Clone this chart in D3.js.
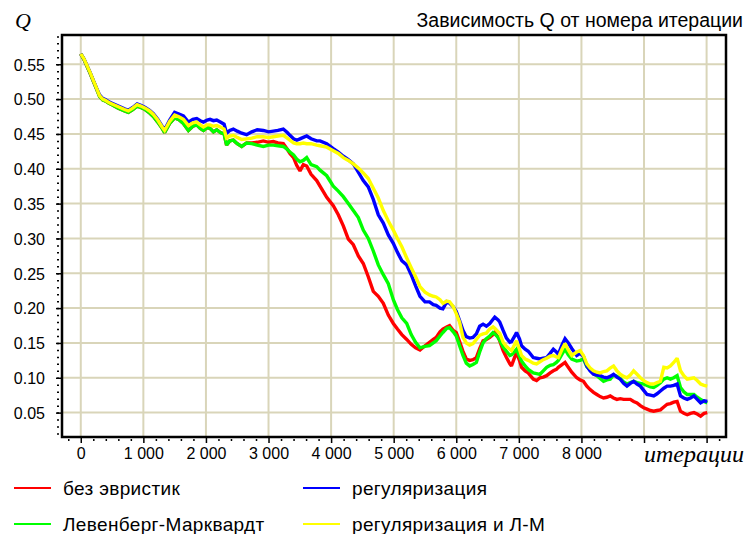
<!DOCTYPE html>
<html>
<head>
<meta charset="utf-8">
<script src="https://cdn.jsdelivr.net/npm/d3@7/dist/d3.min.js"></script>
<style>
  html, body { margin: 0; padding: 0; background: #ffffff; }
  svg { display: block; }
  text { font-family: "Liberation Sans", Arial, sans-serif; fill: #000; }
</style>
</head>
<body>
<svg id="chart" width="749" height="534"></svg>
<script>
// ---------------- DATA ----------------
const chartTitle = "Зависимость Q от номера итерации";
const yAxisTitle = "Q";
const xAxisTitle = "итерации";
const seriesNames = ["без эвристик", "Левенберг-Марквардт", "регуляризация", "регуляризация и Л-М"];
const seriesColors = ["#ff0000", "#00ff00", "#0000ff", "#ffff00"];

const xTickValues = [0, 1000, 2000, 3000, 4000, 5000, 6000, 7000, 8000, 9000, 10000];
const xTickLabels = ["0", "1 000", "2 000", "3 000", "4 000", "5 000", "6 000", "7 000", "8 000", "", ""];
const yTickValues = [0.05, 0.10, 0.15, 0.20, 0.25, 0.30, 0.35, 0.40, 0.45, 0.50, 0.55];
const yTickLabels = ["0.05", "0.10", "0.15", "0.20", "0.25", "0.30", "0.35", "0.40", "0.45", "0.50", "0.55"];
const xDomain = [-300, 10310];
const yDomain = [0.015, 0.592];

const iterations = [
  0, 50, 100, 150, 200, 250, 300, 350, 400, 450, 500, 600, 700, 760, 830, 900, 960, 1030, 1100, 1160, 1230,
  1300, 1340, 1420, 1500, 1560, 1640, 1720, 1790, 1853, 1910, 1960, 2020, 2065, 2120, 2172, 2230, 2290, 2330,
  2380, 2438, 2500, 2572, 2650, 2732, 2820, 2917, 3000, 3077, 3150, 3236, 3300, 3342, 3400, 3450, 3503, 3556,
  3610, 3680, 3770, 3823, 3930, 4035, 4115, 4195, 4275, 4355, 4435, 4514, 4594, 4674, 4754, 4834, 4914, 4994,
  5060, 5130, 5208, 5280, 5350, 5420, 5500, 5572, 5633, 5679, 5740, 5786, 5847, 5893, 5952, 6000, 6053, 6107,
  6160, 6214, 6267, 6321, 6374, 6428, 6481, 6535, 6588, 6615, 6668, 6695, 6749, 6802, 6856, 6882, 6935, 6963,
  7010, 7043, 7100, 7150, 7230, 7283, 7337, 7390, 7444, 7500, 7551, 7600, 7631, 7690, 7738, 7790, 7845, 7925,
  7979, 8032, 8086, 8139, 8193, 8246, 8299, 8353, 8406, 8460, 8513, 8567, 8620, 8674, 8727, 8781, 8834, 8888,
  8941, 8995, 9048, 9102, 9155, 9208, 9262, 9316, 9369, 9422, 9475, 9529, 9583, 9636, 9690, 9743, 9797, 9850,
  9904, 9960, 10011
];

const qPlain = [
  .565, .557, .547, .537, .526, .515, .504, .499, .497, .494, .492, .487, .483, .481, .485, .490, .488, .485, .480, .475, .467,
  .458, .452, .465, .473, .471, .465, .455, .461, .463, .458, .455, .459, .458, .453, .456, .452, .450, .434,
  .440, .441, .436, .432, .437, .437, .438, .440, .438, .439, .437, .436, .428, .422, .416, .405, .397, .406,
  .404, .392, .383, .375, .359, .347, .334, .318, .299, .291, .275, .264, .245, .224, .217, .207, .190, .178,
  .170, .162, .155, .148, .143, .140, .146, .151, .155, .158, .166, .170, .173, .175, .168, .165, .152, .138,
  .127, .125, .126, .129, .142, .153, .155, .158, .162, .165, .158, .153, .139, .129, .120, .117, .130, .136,
  .125, .115, .110, .107, .098, .096, .100, .101, .103, .107, .110, .112, .115, .119, .122, .115, .108, .100,
  .097, .095, .088, .083, .079, .076, .073, .071, .072, .074, .071, .069, .070, .069, .069, .069, .066, .064,
  .060, .057, .055, .053, .052, .053, .054, .058, .062, .063, .065, .066, .052, .049, .047, .049, .050, .048,
  .045, .049, .050
];

const qLM = [
  .565, .557, .547, .537, .526, .515, .504, .499, .497, .494, .492, .487, .483, .481, .485, .490, .488, .485, .480, .475, .467,
  .458, .452, .465, .473, .471, .465, .455, .461, .463, .458, .455, .459, .458, .453, .456, .452, .450, .434,
  .440, .441, .436, .432, .437, .436, .434, .432, .434, .434, .433, .432, .428, .424, .420, .414, .410, .412,
  .416, .406, .403, .398, .390, .375, .368, .360, .350, .340, .330, .312, .300, .282, .262, .248, .235, .212,
  .198, .186, .178, .162, .151, .143, .145, .146, .150, .153, .160, .165, .171, .172, .166, .160, .146, .132,
  .121, .117, .119, .122, .137, .150, .156, .160, .165, .163, .158, .154, .144, .138, .132, .133, .138, .141,
  .131, .124, .117, .112, .107, .106, .105, .110, .115, .118, .119, .122, .125, .134, .141, .133, .127, .124,
  .125, .127, .116, .112, .106, .103, .099, .095, .097, .098, .104, .102, .099, .094, .091, .093, .095, .093,
  .092, .091, .089, .087, .086, .089, .093, .098, .100, .098, .100, .103, .086, .080, .076, .076, .076, .072,
  .069, .066, .064
];

const qReg = [
  .565, .558, .548, .538, .527, .516, .506, .501, .499, .496, .494, .490, .486, .484, .488, .493, .491, .488, .484, .479, .471,
  .461, .456, .470, .481, .479, .476, .467, .471, .472, .469, .467, .470, .471, .469, .470, .467, .464, .451,
  .455, .457, .454, .451, .449, .453, .456, .455, .453, .454, .455, .457, .452, .448, .443, .441, .443, .445,
  .447, .443, .440, .440, .436, .429, .424, .418, .413, .407, .395, .383, .374, .356, .334, .322, .305, .293,
  .280, .268, .262, .248, .232, .217, .209, .209, .205, .204, .200, .199, .209, .207, .202, .195, .182, .168,
  .159, .157, .158, .163, .174, .177, .174, .178, .184, .187, .183, .180, .168, .157, .151, .152, .160, .165,
  .156, .146, .141, .138, .129, .128, .127, .128, .129, .135, .141, .137, .134, .147, .156, .150, .142, .132,
  .135, .131, .117, .110, .105, .104, .103, .101, .100, .102, .105, .101, .098, .092, .088, .092, .095, .091,
  .088, .082, .076, .075, .074, .077, .081, .085, .088, .088, .089, .091, .074, .071, .069, .071, .074, .069,
  .064, .067, .066
];

const qRegLM = [
  .565, .558, .548, .538, .527, .516, .505, .500, .498, .495, .493, .489, .485, .483, .487, .492, .490, .487, .483, .478, .470,
  .460, .455, .468, .477, .475, .471, .462, .466, .467, .463, .460, .463, .463, .461, .462, .460, .457, .444,
  .447, .448, .445, .442, .443, .444, .446, .446, .445, .446, .447, .448, .444, .441, .437, .436, .436, .437,
  .436, .436, .434, .433, .431, .426, .422, .416, .412, .407, .401, .394, .386, .372, .358, .340, .325, .312,
  .300, .288, .272, .258, .245, .231, .223, .219, .217, .216, .212, .207, .210, .209, .202, .192, .180, .158,
  .150, .147, .149, .155, .161, .163, .164, .170, .173, .171, .166, .164, .151, .145, .141, .139, .148, .153,
  .141, .132, .127, .125, .121, .120, .123, .126, .128, .131, .132, .130, .129, .141, .149, .140, .132, .137,
  .139, .132, .120, .114, .110, .108, .107, .109, .110, .114, .117, .110, .105, .102, .100, .104, .110, .105,
  .100, .096, .093, .091, .091, .093, .095, .115, .114, .117, .122, .128, .110, .103, .098, .099, .100, .096,
  .091, .089, .088
];

const seriesValues = [qPlain, qLM, qReg, qRegLM];

// ---------------- LAYOUT ----------------
const svg = d3.select("#chart");
const pLeft = 62, pRight = 726, pTop = 35, pBottom = 437;

const x = d3.scaleLinear().domain(xDomain).range([pLeft, pRight]);
const y = d3.scaleLinear().domain(yDomain).range([pBottom, pTop]);

const gridColor = "#d9d5b9";

// grid
svg.append("g").selectAll("line").data(xTickValues).join("line")
  .attr("x1", d => x(d)).attr("x2", d => x(d))
  .attr("y1", pTop).attr("y2", pBottom)
  .attr("stroke", gridColor).attr("stroke-width", 2);
svg.append("g").selectAll("line").data(yTickValues).join("line")
  .attr("x1", pLeft).attr("x2", pRight)
  .attr("y1", d => y(d)).attr("y2", d => y(d))
  .attr("stroke", gridColor).attr("stroke-width", 2);

// clip
svg.append("defs").append("clipPath").attr("id", "plotclip")
  .append("rect").attr("x", pLeft).attr("y", pTop).attr("width", pRight - pLeft).attr("height", pBottom - pTop);

// series
const line = d3.line().x((d, i) => x(iterations[i])).y(d => y(d));
const plot = svg.append("g").attr("clip-path", "url(#plotclip)");
seriesValues.forEach((vals, k) => {
  plot.append("path")
    .attr("d", line(vals))
    .attr("fill", "none")
    .attr("stroke", seriesColors[k])
    .attr("stroke-width", 3.4)
    .attr("stroke-linejoin", "miter")
    .attr("stroke-miterlimit", 2);
});

// frame
svg.append("rect").attr("x", pLeft).attr("y", pTop)
  .attr("width", pRight - pLeft).attr("height", pBottom - pTop)
  .attr("fill", "none").attr("stroke", "#000").attr("stroke-width", 2.5);

// y axis major
const yAxis = d3.axisLeft(y).tickValues(yTickValues)
  .tickFormat((d, i) => yTickLabels[i]).tickSize(5).tickPadding(11);
const gy = svg.append("g").attr("transform", `translate(${pLeft - 1},0)`).call(yAxis);
gy.select(".domain").remove();
gy.selectAll("text").style("font-family", '"Liberation Sans", Arial, sans-serif').style("font-size", "16px").attr("dy", "0.36em");
gy.selectAll(".tick line").attr("stroke-width", 1.5);

// y axis minor
const yMinor = d3.range(2, 60).map(v => v / 100).filter(v => v >= yDomain[0] && v <= yDomain[1]);
const gym = svg.append("g").attr("transform", `translate(${pLeft - 3},0)`)
  .call(d3.axisLeft(y).tickValues(yMinor).tickSize(2).tickFormat(""));
gym.select(".domain").remove();
gym.selectAll(".tick line").attr("stroke-width", 1.5);

// x axis major
const xAxis = d3.axisBottom(x).tickValues(xTickValues)
  .tickFormat((d, i) => xTickLabels[i]).tickSize(5).tickPadding(5);
const gx = svg.append("g").attr("transform", `translate(0,${pBottom + 1})`).call(xAxis);
gx.select(".domain").remove();
gx.selectAll("text").style("font-family", '"Liberation Sans", Arial, sans-serif').style("font-size", "16px");
gx.selectAll(".tick line").attr("stroke-width", 1.5);

// x axis minor
const xMinor = d3.range(-200, 10400, 200).filter(v => v % 1000 !== 0 && v >= xDomain[0] && v <= xDomain[1]);
const gxm = svg.append("g").attr("transform", `translate(0,${pBottom + 2})`)
  .call(d3.axisBottom(x).tickValues(xMinor).tickSize(2).tickFormat(""));
gxm.select(".domain").remove();
gxm.selectAll(".tick line").attr("stroke-width", 1.5);

// titles
svg.append("text").attr("x", 743).attr("y", 27).attr("text-anchor", "end")
  .style("font-size", "19.5px").text(chartTitle);
svg.append("text").attr("x", 15).attr("y", 28)
  .style("font-family", '"Liberation Serif", "Times New Roman", serif')
  .style("font-style", "italic").style("font-size", "22px").text(yAxisTitle);
svg.append("text").attr("x", 744).attr("y", 462).attr("text-anchor", "end")
  .style("font-family", '"Liberation Serif", "Times New Roman", serif')
  .style("font-style", "italic").style("font-size", "24px").text(xAxisTitle);

// legend
const legendPos = [[14, 488], [14, 524], [303, 488], [303, 524]];
seriesNames.forEach((name, k) => {
  const [lx, ly] = legendPos[k];
  svg.append("line").attr("x1", lx).attr("x2", lx + 37).attr("y1", ly).attr("y2", ly)
    .attr("stroke", seriesColors[k]).attr("stroke-width", 2);
  svg.append("text").attr("x", lx + 49).attr("y", ly + 6.5)
    .style("font-size", "19px").style("letter-spacing", "0.35px").text(name);
});
</script>
</body>
</html>
